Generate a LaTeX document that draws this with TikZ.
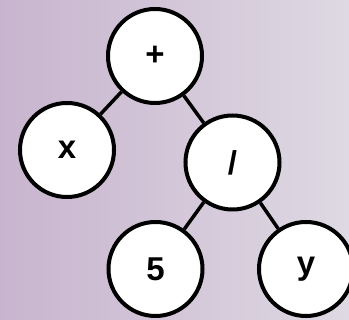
\documentclass[tikz,border=0pt]{standalone}
\usepackage{fontspec}
\setmainfont{Liberation Sans}
\definecolor{bgleft}{RGB}{200,180,206}
\definecolor{bgright}{RGB}{222,217,227}
\definecolor{bgmid}{RGB}{190,182,194}
\newcommand{\nodefont}{\fontsize{33pt}{33pt}\selectfont\bfseries}
\begin{document}
\begin{tikzpicture}[x=1pt,y=-1pt,
  treenode/.style={circle,draw=black,fill=white,line width=4pt,minimum size=94pt,inner sep=0pt,
    font=\nodefont},
  edge/.style={line width=3.5pt,draw=black}]
\useasboundingbox (0,0) rectangle (349,320);
\shade[left color=bgleft,middle color=bgmid,right color=bgright] (0,0) rectangle (349,320);
\node[treenode] (plus) at (155,56) {+};
\node[treenode] (x) at (67,150) {x};
\node[treenode] (div) at (232.5,162.5) {/};
\node[treenode] (five) at (155.5,269) {5};
\node[treenode] (y) at (306,269) {y};
\draw[edge] (plus) -- (x);
\draw[edge] (plus) -- (div);
\draw[edge] (div) -- (five);
\draw[edge] (div) -- (y);
\end{tikzpicture}
\end{document}
